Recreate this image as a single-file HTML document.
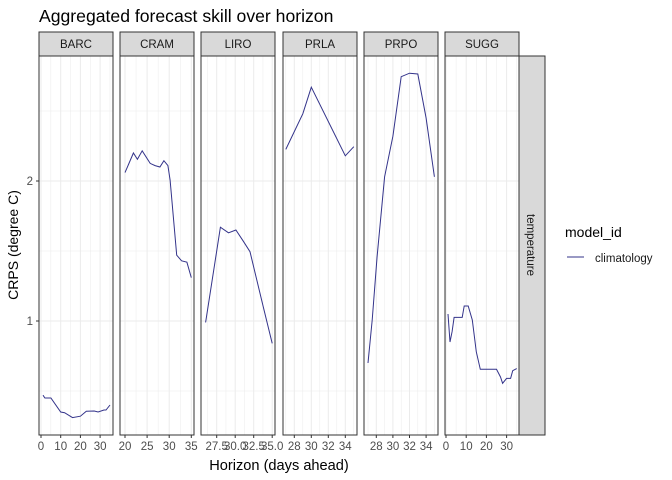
<!DOCTYPE html>
<html><head><meta charset="utf-8"><style>
html,body{margin:0;padding:0;background:#fff;}
svg{display:block;font-family:"Liberation Sans",Arial,sans-serif;}
</style></head><body>
<svg id="chart" width="672" height="480" viewBox="0 0 672 480">
<rect width="672" height="480" fill="#fff"/>
<text x="39" y="22" font-size="17.6" fill="#000">Aggregated forecast skill over horizon</text>
<text transform="translate(18,245) rotate(-90)" text-anchor="middle" font-size="14" fill="#000">CRPS (degree C)</text>
<text x="279" y="470" text-anchor="middle" font-size="14.6" fill="#000">Horizon (days ahead)</text>
<g id="panels"></g>
<rect x="519" y="56" width="26" height="379" fill="#d9d9d9" stroke="#333" stroke-width="1"/>
<text transform="translate(527,245) rotate(90)" text-anchor="middle" font-size="11.5" fill="#1a1a1a">temperature</text>
<text x="565" y="237" font-size="14" fill="#000">model_id</text>
<line x1="567" y1="257" x2="584" y2="257" stroke="#33338a" stroke-width="1"/>
<text x="595" y="262" font-size="11.5" fill="#1a1a1a">climatology</text>
</svg>
<script>
const sites = ["BARC","CRAM","LIRO","PRLA","PRPO","SUGG"];
const xBARC = [1,2,5,10,12,16,20,23,27,29,32,33,35];
const yBARC = [0.47,0.45,0.45,0.35,0.345,0.31,0.32,0.355,0.357,0.35,0.364,0.364,0.40];
const xCRAM = [20,21.9,22.8,23.9,25.7,26.8,27.9,28.8,29.7,30.2,31.7,32.8,34,35];
const yCRAM = [2.06,2.20,2.155,2.216,2.126,2.11,2.10,2.145,2.11,2.007,1.47,1.43,1.42,1.31];
const xLIRO = [26,28,29.1,30.1,31.1,32,33.8,35];
const yLIRO = [0.99,1.67,1.63,1.65,1.57,1.495,1.10,0.84];
const xPRLA = [27,29,30,34,35];
const yPRLA = [2.226,2.48,2.67,2.18,2.245];
const xPRPO = [27,27.5,28.1,29,30,31,32,33,34,35];
const yPRPO = [0.70,1.007,1.46,2.03,2.32,2.745,2.77,2.764,2.45,2.03];
const xSUGG = [1,2,3,4,8,9,11,13,15,17,25,27,28,30,32,33,35];
const ySUGG = [1.05,0.85,0.924,1.026,1.026,1.107,1.107,1.007,0.78,0.655,0.655,0.60,0.555,0.59,0.59,0.645,0.66];
const xTickLabels = [["0","10","20","30"],["20","25","30","35"],["27.5","30.0","32.5","35.0"],["28","30","32","34"],["28","30","32","34"],["0","10","20","30"]];
const yTicks = [1,2];
const yMinor = [0.5,1.5,2.5];

const seriesX = [xBARC,xCRAM,xLIRO,xPRLA,xPRPO,xSUGG];
const seriesY = [yBARC,yCRAM,yLIRO,yPRLA,yPRPO,ySUGG];
const panelLeft = [39,120,201,283,364,445];
const panelW = 74, pTop = 56, pBottom = 435, stripTop = 32;
const xScale = [[0,41,1.97],[20,125,4.42],[27.5,216.7,7.4],[28,294.3,8.5],[28,376.3,8.3],[0,446,2.02]];
function yPx(v){return 181-(v-2)*140;}
const NS="http://www.w3.org/2000/svg";
const g=document.getElementById('panels');
function mk(t,a,p){const e=document.createElementNS(NS,t);for(const k in a)e.setAttribute(k,a[k]);(p||g).appendChild(e);return e;}
yTicks.forEach(v=>{
  const t=mk('text',{x:33,y:yPx(v)+4,'text-anchor':'end','font-size':'11.5',fill:'#4d4d4d'});
  t.textContent=v;
  
  
  const l=mk('line',{x1:36,x2:39,y1:yPx(v),y2:yPx(v),stroke:'#333'});
  
  
});
sites.forEach((s,i)=>{
  const L=panelLeft[i],R=L+panelW;
  const [v0,p0,k]=xScale[i];
  const xPx=v=>p0+(v-v0)*k;
  const pg=mk('g',{});
  
  
  mk('rect',{x:L,y:pTop,width:panelW,height:pBottom-pTop,fill:'#fff'},pg);
  const clip=mk('g',{},pg);
  const majors=xTickLabels[i].map(parseFloat);
  const step=majors[1]-majors[0];
  for(let m=majors[0]-step*1.5;m<=majors[majors.length-1]+step*1.5;m+=step/2){
    const x=xPx(m); if(x<=L+0.5||x>=R-0.5)continue;
    const isMaj=majors.some(q=>Math.abs(q-m)<1e-6);
    mk('line',{x1:x,x2:x,y1:pTop,y2:pBottom,stroke:'#ebebeb','stroke-width':isMaj?1:0.5},clip);
  }
  yMinor.forEach(v=>mk('line',{x1:L,x2:R,y1:yPx(v),y2:yPx(v),stroke:'#ebebeb','stroke-width':0.5},clip));
  yTicks.forEach(v=>mk('line',{x1:L,x2:R,y1:yPx(v),y2:yPx(v),stroke:'#ebebeb','stroke-width':1},clip));
  const pts=seriesX[i].map((x,j)=>xPx(x).toFixed(1)+','+yPx(seriesY[i][j]).toFixed(1)).join(' ');
  const pl=mk('polyline',{points:pts,fill:'none',stroke:'#33338a','stroke-width':1},pg);
  
  
  mk('rect',{x:L,y:pTop,width:panelW,height:pBottom-pTop,fill:'none',stroke:'#333','stroke-width':1},pg);
  const st=mk('rect',{x:L,y:stripTop,width:panelW,height:pTop-stripTop,fill:'#d9d9d9',stroke:'#333','stroke-width':1},pg);
  
  
  const sl=mk('text',{x:L+panelW/2,y:48,'text-anchor':'middle','font-size':'11.5',fill:'#1a1a1a'},pg);
  sl.textContent=s;
  
  
  xTickLabels[i].forEach((lab,j)=>{
    const x=xPx(majors[j]);
    const tk=mk('line',{x1:x,x2:x,y1:pBottom,y2:pBottom+3,stroke:'#333'},pg);
    
    
    const tl=mk('text',{x:x,y:pBottom+15,'text-anchor':'middle','font-size':'11.5',fill:'#4d4d4d'},pg);
    tl.textContent=lab;
    
    
  });
});
</script>
</body></html>
